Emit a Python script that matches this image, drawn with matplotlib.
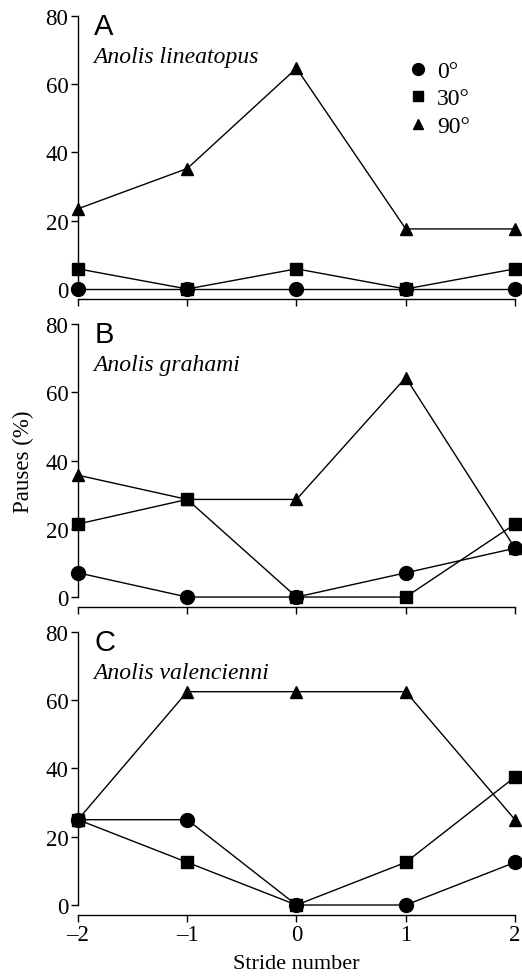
import matplotlib
matplotlib.use("Agg")
import matplotlib.pyplot as plt

# stride number relative to the obstacle
strides = [-2, -1, 0, 1, 2]
stride_labels = ["\u20132", "\u20131", "0", "1", "2"]
y_ticks = [0, 20, 40, 60, 80]

# pauses (%) per panel, per incline
a_0 = [0, 0, 0, 0, 0]
a_30 = [5.9, 0, 5.9, 0, 5.9]
a_90 = [23.5, 35.3, 64.7, 17.6, 17.6]

b_0 = [7.1, 0, 0, 7.1, 14.3]
b_30 = [21.4, 28.6, 0, 0, 21.4]
b_90 = [35.7, 28.6, 28.6, 64.3, 14.3]

c_0 = [25, 25, 0, 0, 12.5]
c_30 = [25, 12.5, 0, 12.5, 37.5]
c_90 = [25, 62.5, 62.5, 62.5, 25]

panel_letters = ["A", "B", "C"]
species = ["Anolis lineatopus", "Anolis grahami", "Anolis valencienni"]
inclines = ["0\u00b0", "30\u00b0", "90\u00b0"]

plt.rcParams["font.family"] = ["Liberation Serif", "DejaVu Serif"]

fig = plt.figure(figsize=(5.22, 9.78), dpi=100)
boxes = [
    [0.1494, 0.7035, 0.8372, 0.2791],
    [0.1494, 0.3885, 0.8372, 0.2792],
    [0.1494, 0.0736, 0.8372, 0.2792],
]
data = [(a_0, a_30, a_90), (b_0, b_30, b_90), (c_0, c_30, c_90)]
styles = [("o", 10), ("s", 8), ("^", 9)]

for i, box in enumerate(boxes):
    ax = fig.add_axes(box)
    for vals, (m, ms), lab in zip(data[i], styles, inclines):
        ax.plot(strides, vals, color="black", lw=1.0, marker=m, ms=ms,
                mec="black", mfc="black", clip_on=False, label=lab)
    ax.set_xlim(-2, 2)
    ax.set_ylim(0, 80)
    for s in ["top", "right"]:
        ax.spines[s].set_visible(False)
    ax.spines["bottom"].set_position(("outward", 7))
    ax.spines["bottom"].set_bounds(-2, 2)
    ax.spines["left"].set_bounds(0, 80)
    for s in ["bottom", "left"]:
        ax.spines[s].set_linewidth(1.0)
    ax.set_yticks(y_ticks)
    ax.set_xticks(strides)
    ax.tick_params(direction="out", length=5, width=1.0, labelsize=16.5, pad=2)
    if i == 2:
        ax.set_xticklabels(stride_labels)
        ax.set_xlabel("Stride number", fontsize=16, labelpad=6)
    else:
        ax.set_xticklabels([])
    if i == 1:
        ax.set_ylabel("Pauses (%)", fontsize=16.5, labelpad=8)
    ax.text(0.037, 1.015, panel_letters[i], transform=ax.transAxes,
            fontsize=21, family="Liberation Sans", va="top", ha="left")
    ax.text(0.034, 0.85, species[i], transform=ax.transAxes,
            fontsize=17, style="italic", va="center", ha="left")
    if i == 0:
        ax.legend(loc="upper left", bbox_to_anchor=(0.74, 0.872), frameon=False,
                  handlelength=0.6, handletextpad=0.5, labelspacing=0.25,
                  fontsize=17, borderaxespad=0, markerscale=0.85)
        for h in ax.get_legend().legend_handles:
            h.set_linestyle("none")

fig.savefig("out.png", dpi=100)
